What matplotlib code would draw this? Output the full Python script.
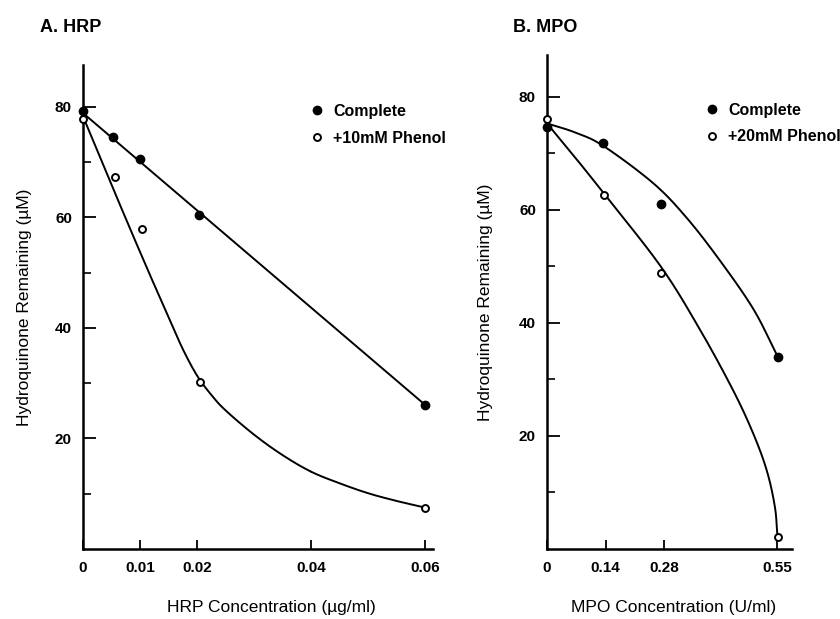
import numpy as np
import matplotlib
matplotlib.use("Agg")
import matplotlib.pyplot as plt

plt.rcParams['font.family'] = ['Liberation Sans', 'DejaVu Sans']

# panel A : HRP
hrp_conc = [0, 0.0053, 0.010, 0.0204, 0.060]
hrp_complete = [79.3, 74.6, 70.5, 60.5, 26.1]
hrp_conc_ph = [0, 0.0056, 0.0104, 0.0205, 0.060]
hrp_phenol = [77.9, 67.4, 58.0, 30.2, 7.5]

# hand drawn curves
hrp_line_x = [0, 0.060]
hrp_line_y = [78.9, 26.1]
hrp_curve_x = [0, 0.004, 0.008, 0.012, 0.015, 0.0175, 0.020, 0.0225, 0.025,
               0.030, 0.035, 0.040, 0.045, 0.050, 0.055, 0.060]
hrp_curve_y = [78.3, 68.4, 58.6, 49.0, 42.0, 36.2, 31.4, 27.9, 25.1,
               20.7, 17.0, 14.0, 11.9, 10.1, 8.7, 7.5]

# panel B : MPO
mpo_conc = [0, 0.135, 0.272, 0.552]
mpo_complete = [74.6, 71.8, 61.0, 34.0]
mpo_conc_ph = [0, 0.137, 0.272, 0.552]
mpo_phenol = [76.1, 62.7, 48.9, 2.2]

mpo_c_curve_x = [0, 0.067, 0.135, 0.2544, 0.334, 0.414, 0.494, 0.55]
mpo_c_curve_y = [75.3, 73.7, 71.3, 64.7, 58.6, 51.0, 42.4, 34.3]
mpo_p_curve_x = [0, 0.067, 0.135, 0.272, 0.366, 0.4457, 0.494, 0.526, 0.545, 0.551]
mpo_p_curve_y = [75.3, 69.3, 63.0, 50.0, 38.8, 28.0, 20.3, 13.8, 7.5, 2.5]


def smooth(xk, yk, n=25):
    # catmull-rom through the knots
    P = np.column_stack([xk, yk]).astype(float)
    P = np.vstack([2 * P[0] - P[1], P, 2 * P[-1] - P[-2]])
    out = []
    t = np.linspace(0, 1, n)[:, None]
    for i in range(1, len(P) - 2):
        p0, p1, p2, p3 = P[i - 1], P[i], P[i + 1], P[i + 2]
        seg = 0.5 * ((2 * p1) + (-p0 + p2) * t + (2 * p0 - 5 * p1 + 4 * p2 - p3) * t ** 2
                     + (-p0 + 3 * p1 - 3 * p2 + p3) * t ** 3)
        out.append(seg)
    out = np.vstack(out)
    return out[:, 0], out[:, 1]


def style_axes(ax, xticks, xticklabels, xlim, ylim):
    ax.set_xlim(*xlim)
    ax.set_ylim(*ylim)
    for s in ['top', 'right']:
        ax.spines[s].set_visible(False)
    ax.spines['left'].set_linewidth(1.8)
    ax.spines['bottom'].set_linewidth(1.8)
    ax.set_yticks([20, 40, 60, 80])
    ax.set_yticks([10, 30, 50, 70], minor=True)
    ax.set_xticks(xticks)
    ax.set_xticklabels(xticklabels)
    ax.tick_params(axis='y', which='major', direction='in', length=9.5, width=1.3,
                   pad=8, labelsize=11)
    ax.tick_params(axis='y', which='minor', direction='in', length=5.5, width=1.2)
    ax.tick_params(axis='x', which='major', direction='in', length=6.5, width=1.3,
                   pad=9, labelsize=11)
    for lab in ax.get_xticklabels() + ax.get_yticklabels():
        lab.set_fontweight('bold')


fig = plt.figure(figsize=(8.4, 6.19), dpi=100)

# ---- A. HRP
ax1 = fig.add_axes([83 / 840, 70 / 619, 350 / 840, 484 / 619])
xs, ys = smooth(hrp_line_x, hrp_line_y)
ax1.plot(xs, ys, color='black', lw=1.4, zorder=2)
xs, ys = smooth(hrp_curve_x, hrp_curve_y)
ax1.plot(xs, ys, color='black', lw=1.4, zorder=2)
ax1.plot(hrp_conc, hrp_complete, 'o', ms=6, color='black', mec='black',
         zorder=4, label='Complete', clip_on=False)
ax1.plot(hrp_conc_ph, hrp_phenol, 'o', ms=5, mfc='white', mec='black', mew=1.4,
         zorder=5, label='+10mM Phenol', clip_on=False)
style_axes(ax1, [0, 0.01, 0.02, 0.04, 0.06], ['0', '0.01', '0.02', '0.04', '0.06'],
           (0, 0.0614), (0, 87.6))
ax1.set_xlabel('HRP Concentration (µg/ml)', fontsize=12.5)
ax1.xaxis.set_label_coords(0.537, -0.106)
ax1.set_ylabel('Hydroquinone Remaining (µM)', fontsize=12.5)
ax1.yaxis.set_label_coords(-0.146, 0.5)
ax1.legend(loc='upper left', bbox_to_anchor=(0.623, 0.936), frameon=False,
           borderpad=0, handlelength=1, handletextpad=0.5, labelspacing=0.75,
           prop={'weight': 'bold', 'size': 11.5})
fig.text(40 / 840, 1 - 28 / 619, 'A. HRP', fontsize=13, fontweight='bold',
         va='center', ha='left')

# ---- B. MPO
ax2 = fig.add_axes([547 / 840, 70 / 619, 245 / 840, 494 / 619])
xs, ys = smooth(mpo_c_curve_x, mpo_c_curve_y)
ax2.plot(xs, ys, color='black', lw=1.4, zorder=2)
xs, ys = smooth(mpo_p_curve_x, mpo_p_curve_y)
ax2.plot(xs, ys, color='black', lw=1.4, zorder=2)
ax2.plot(mpo_conc, mpo_complete, 'o', ms=6, color='black', mec='black',
         zorder=4, label='Complete', clip_on=False)
ax2.plot(mpo_conc_ph, mpo_phenol, 'o', ms=5, mfc='white', mec='black', mew=1.4,
         zorder=5, label='+20mM Phenol', clip_on=False)
style_axes(ax2, [0, 0.14, 0.28, 0.55], ['0', '0.14', '0.28', '0.55'],
           (0, 0.586), (0, 87.4))
ax2.set_xlabel('MPO Concentration (U/ml)', fontsize=12.5)
ax2.xaxis.set_label_coords(0.518, -0.104)
ax2.set_ylabel('Hydroquinone Remaining (µM)', fontsize=12.5)
ax2.yaxis.set_label_coords(-0.22, 0.5)
ax2.legend(loc='upper left', bbox_to_anchor=(0.608, 0.92), frameon=False,
           borderpad=0, handlelength=1, handletextpad=0.5, labelspacing=0.75,
           prop={'weight': 'bold', 'size': 11.5})
fig.text(513 / 840, 1 - 28 / 619, 'B. MPO', fontsize=13, fontweight='bold',
         va='center', ha='left')

fig.savefig('out.png', dpi=100)
